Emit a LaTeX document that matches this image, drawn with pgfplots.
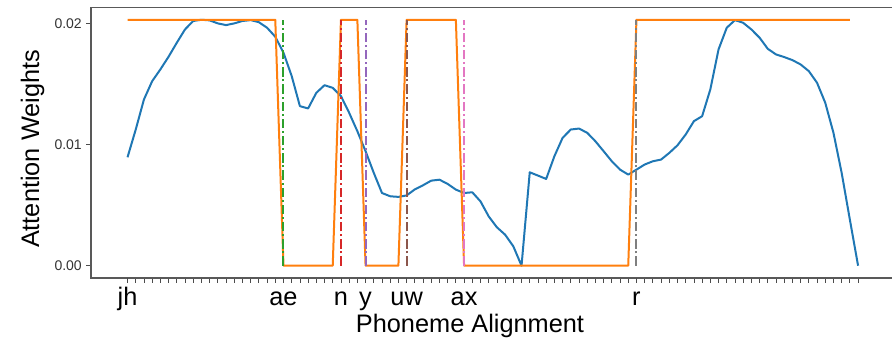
\documentclass[border=0pt]{standalone}
\usepackage{pgfplots}
\pgfplotsset{compat=1.18}
\usepackage{fontspec}
\setmainfont{Liberation Sans}
\definecolor{mplblue}{HTML}{1F77B4}
\definecolor{mplorange}{HTML}{FF7F0E}
\definecolor{mplgreen}{HTML}{2CA02C}
\definecolor{mplred}{HTML}{D62728}
\definecolor{mplpurple}{HTML}{9467BD}
\definecolor{mplbrown}{HTML}{8C564B}
\definecolor{mplpink}{HTML}{E377C2}
\definecolor{mplgray}{HTML}{7F7F7F}
\tikzset{vl/.style={line width=1.5pt, dash pattern=on 7pt off 2.2pt on 1.5pt off 2.2pt}}
\begin{document}
\begin{tikzpicture}
\begin{axis}[
  scale only axis,
  width=602.7pt, height=202.9pt,
  xmin=-4.45, xmax=93.45,
  ymin=-0.001015, ymax=0.021315,
  axis line style={black!65, line width=0.8pt},
  tick align=outside,
  xtick pos=left, ytick pos=left,
  major tick length=3.4pt,
  every tick/.style={black!70, line width=0.6pt},
  xtick={0,...,89},
  xticklabels={},
  extra x ticks={0,19,26,29,34,41,62},
  extra x tick labels={jh,ae,n,y,uw,ax,r},
  extra x tick style={tick style={black!70, line width=0.6pt}},
  xticklabel style={font=\fontsize{19}{19}\selectfont, anchor=base, yshift=-17.4pt},
  ytick={0,0.01,0.02},
  yticklabels={0.00,0.01,0.02},
  scaled y ticks=false,
  yticklabel style={font=\fontsize{10.5}{10.5}\selectfont, text=black!80},
  /pgf/number format/assume math mode=true,
  xlabel={Phoneme Alignment},
  ylabel={Attention Weights},
  xlabel style={font=\fontsize{19}{19}\selectfont, at={(axis description cs:0.4716,-0.2005)}, anchor=base},
  ylabel style={font=\fontsize{19}{19}\selectfont, at={(axis description cs:-0.0647,0.477)}, anchor=base},
  clip=true,
]
\addplot[mplblue, line width=1.5pt, line join=round] coordinates {
(0,0.00895)(1,0.01124)(2,0.01372)(3,0.01523)(4,0.0162)(5,0.01725)(6,0.0184)(7,0.0195)(8,0.0202)(9,0.0203)
(10,0.02025)(11,0.0200)(12,0.01986)(13,0.0200)(14,0.0202)(15,0.02027)(16,0.0201)(17,0.01964)(18,0.0189)(19,0.01758)
(20,0.01565)(21,0.01317)(22,0.01298)(23,0.01427)(24,0.0149)(25,0.01468)(26,0.0140)(27,0.01262)(28,0.0111)(29,0.00945)
(30,0.00766)(31,0.0060)(32,0.00573)(33,0.00568)(34,0.00580)(35,0.00630)(36,0.00664)(37,0.00702)(38,0.0071)(39,0.00675)
(40,0.00628)(41,0.0060)(42,0.00606)(43,0.00531)(44,0.00407)(45,0.00317)(46,0.00256)(47,0.0016)(48,0.0)(49,0.00771)
(50,0.00744)(51,0.00716)(52,0.00903)(53,0.01055)(54,0.01124)(55,0.01132)(56,0.01097)(57,0.01027)(58,0.00945)(59,0.00862)
(60,0.00793)(61,0.00752)(62,0.00793)(63,0.00835)(64,0.00862)(65,0.00876)(66,0.00931)(67,0.00994)(68,0.01083)(69,0.01193)
(70,0.01234)(71,0.01455)(72,0.01785)(73,0.01964)(74,0.02027)(75,0.02005)(76,0.0195)(77,0.01882)(78,0.0179)(79,0.01744)
(80,0.01722)(81,0.01697)(82,0.01661)(83,0.01606)(84,0.0151)(85,0.01345)(86,0.01097)(87,0.00766)(88,0.0038)(89,0.0)
};
\addplot[mplorange, line width=1.5pt, line join=round] coordinates {
(0,0.0203)(18,0.0203)(19,0)(25,0)(26,0.0203)(28,0.0203)(29,0)(33,0)(34,0.0203)(40,0.0203)(41,0)(61,0)(62,0.0203)(88,0.0203)
};
\addplot[draw=mplgreen, vl] coordinates {(19,0)(19,0.0203)};
\addplot[draw=mplred, vl] coordinates {(26,0)(26,0.0203)};
\addplot[draw=mplpurple, vl] coordinates {(29,0)(29,0.0203)};
\addplot[draw=mplbrown, vl] coordinates {(34,0)(34,0.0203)};
\addplot[draw=mplpink, vl] coordinates {(41,0)(41,0.0203)};
\addplot[draw=mplgray, vl] coordinates {(62,0)(62,0.0203)};
\end{axis}
\pgfresetboundingbox
\path[use as bounding box] ([shift={(-68.25pt,-45.75pt)}]current axis.south west) rectangle ([shift={(-1.95pt,5.6pt)}]current axis.north east);
\end{tikzpicture}
\end{document}
